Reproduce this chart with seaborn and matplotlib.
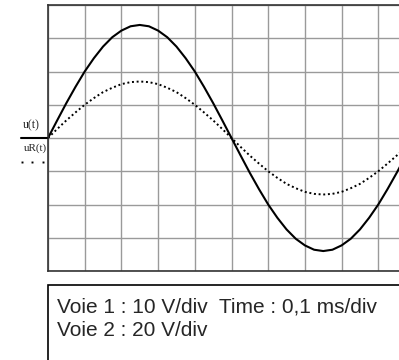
import numpy as np
import pandas as pd
import seaborn as sns
import matplotlib.pyplot as plt
from matplotlib.patches import Rectangle
from matplotlib.lines import Line2D

# Values, in divisions (0.25 div steps in time)
time_div = np.arange(0, 10.25, 0.25)
u_div = [0, 0.53, 1.05, 1.54, 2.0, 2.4, 2.75, 3.03, 3.23, 3.36, 3.4,
         3.36, 3.23, 3.03, 2.75, 2.4, 2.0, 1.54, 1.05, 0.53, 0,
         -0.53, -1.05, -1.54, -2.0, -2.4, -2.75, -3.03, -3.23, -3.36, -3.4,
         -3.36, -3.23, -3.03, -2.75, -2.4, -2.0, -1.54, -1.05, -0.53, 0]
ur_div = [0, 0.27, 0.53, 0.77, 1.0, 1.2, 1.38, 1.51, 1.62, 1.68, 1.7,
          1.68, 1.62, 1.51, 1.38, 1.2, 1.0, 0.77, 0.53, 0.27, 0,
          -0.27, -0.53, -0.77, -1.0, -1.2, -1.38, -1.51, -1.62, -1.68, -1.7,
          -1.68, -1.62, -1.51, -1.38, -1.2, -1.0, -0.77, -0.53, -0.27, 0]
labels = ["u(t)", "uR(t)"]
info_lines = ["Voie 1 : 10 V/div  Time : 0,1 ms/div", "Voie 2 : 20 V/div"]

df = pd.DataFrame({"t": time_div, "u": u_div, "uR": ur_div})

sns.set_style("white")
W, H = 399, 360
fig = plt.figure(figsize=(W / 100, H / 100), dpi=100)
fig.patch.set_facecolor("white")

# oscilloscope screen, runs past the right edge of the picture
ax = fig.add_axes([48 / W, (H - 271) / H, 367 / W, 266 / H])
sns.lineplot(data=df, x="t", y="u", ax=ax, color="black", lw=1.5)
sns.lineplot(data=df, x="t", y="uR", ax=ax, color="black", lw=1.4,
             linestyle=(0, (1, 1.4)))
ax.set_xlim(0, 10)
ax.set_ylim(-4, 4)
ax.set_xticks(range(0, 11))
ax.set_yticks(range(-4, 5))
ax.grid(True, color="#9a9a9a", lw=1)
ax.tick_params(length=0, labelbottom=False, labelleft=False)
ax.set_xlabel("")
ax.set_ylabel("")
for s in ax.spines.values():
    s.set_color("#333333")
    s.set_linewidth(1.2)

# legend on the left
fig.text(31.5 / W, (H - 125.5) / H, labels[0], family="Liberation Serif",
         fontsize=8.5, ha="center", va="center")
fig.add_artist(Line2D([21 / W, 47 / W], [(H - 137.7) / H] * 2,
                      transform=fig.transFigure, color="black", lw=1.5))
fig.text(35 / W, (H - 148) / H, labels[1], family="Liberation Serif",
         fontsize=8, ha="center", va="center")
fig.add_artist(Line2D([22 / W, 32 / W, 42.5 / W], [(H - 161.7) / H] * 3,
                      transform=fig.transFigure, color="black", lw=0,
                      marker="s", ms=1.4, mew=0))

# settings box
fig.add_artist(Rectangle((48 / W, (H - 380) / H), 380 / W, 95 / H,
                         transform=fig.transFigure, fill=False,
                         edgecolor="black", lw=1.2, clip_on=False))
fig.text(57 / W, (H - 312.5) / H, info_lines[0], family="Liberation Sans",
         fontsize=15, va="baseline")
fig.text(57 / W, (H - 335.5) / H, info_lines[1], family="Liberation Sans",
         fontsize=15, va="baseline")

fig.savefig("out.png", dpi=100)
